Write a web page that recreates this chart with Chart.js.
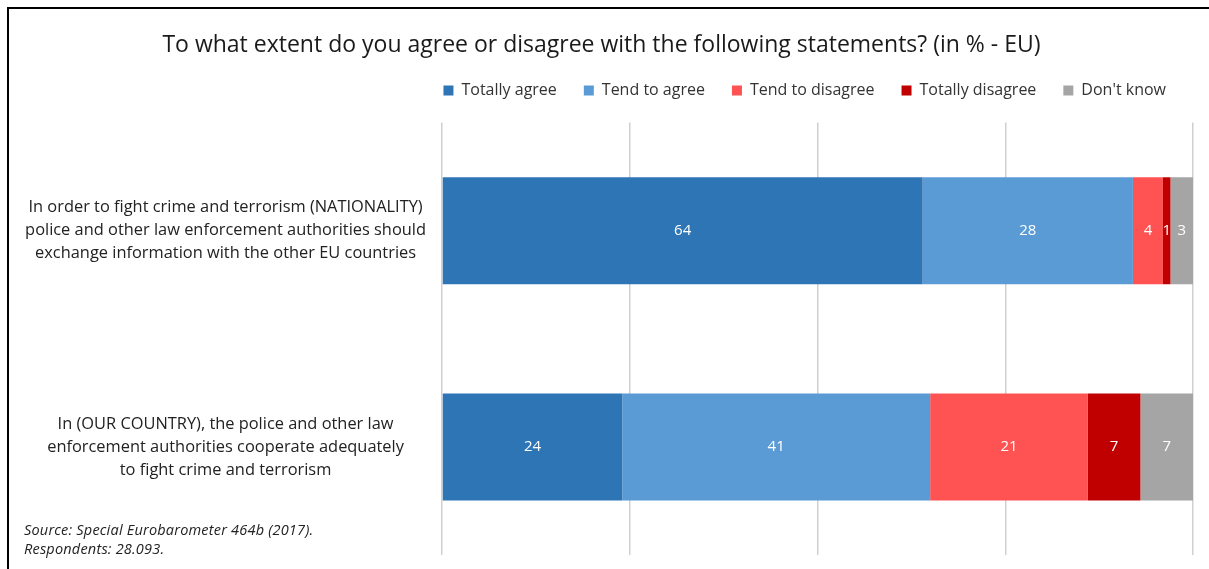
<!DOCTYPE html>
<html>
<head>
<meta charset="utf-8">
<script src="https://cdn.jsdelivr.net/npm/chart.js@4.4.1/dist/chart.umd.min.js"></script>
<style>
  html, body { margin: 0; padding: 0; background: #fff; }
  #wrap { position: relative; width: 1209px; height: 569px; overflow: hidden; }
  #frame {
    position: absolute; left: 7px; top: 7px; width: 1260px; height: 600px;
    border-left: 2px solid #000; border-top: 2px solid #000;
  }
  #note {
    position: absolute; left: 24px; top: 520px;
    font: italic 14.5px "Open Sans", sans-serif; color: #222; line-height: 19px;
    letter-spacing: 0.2px;
  }
</style>
</head>
<body>
<div id="wrap">
  <div id="frame"></div>
  <canvas id="graphics-chart" width="1209" height="569"></canvas>
  <div id="note">Source: Special Eurobarometer 464b (2017).<br>Respondents: 28.093.</div>
</div>
<script>
/**
 * Data
 */
const statements = [
  ['In order to fight crime and terrorism (NATIONALITY)',
   'police and other law enforcement authorities should',
   'exchange information with the other EU countries'],
  ['In (OUR COUNTRY), the police and other law',
   'enforcement authorities cooperate adequately',
   'to fight crime and terrorism']
];
const totallyAgree = [64, 24];
const tendToAgree = [28, 41];
const tendToDisagree = [4, 21];
const totallyDisagree = [1, 7];
const dontKnow = [3, 7];
const axisTicks = [0, 25, 50, 75, 100];

const FONT = '"Open Sans", sans-serif';

/**
 * Methods
 */

// white value in the middle of each bar segment
const segmentLabels = {
  id: 'segmentLabels',
  afterDatasetsDraw(chart) {
    const { ctx } = chart;
    ctx.save();
    ctx.font = '15px ' + FONT;
    ctx.fillStyle = '#ffffff';
    ctx.textAlign = 'center';
    ctx.textBaseline = 'middle';
    chart.data.datasets.forEach((ds, i) => {
      chart.getDatasetMeta(i).data.forEach((bar, j) => {
        ctx.fillText(ds.data[j], (bar.x + bar.base) / 2, bar.y);
      });
    });
    ctx.restore();
  }
};

// a bit more room between the legend and the plot
const legendGap = {
  id: 'legendGap',
  beforeInit(chart) {
    const fit = chart.legend.fit;
    chart.legend.fit = function () {
      fit.call(this);
      this.height += 14;
    };
  }
};

const createGraphic = () => {
  const ctx = document.getElementById('graphics-chart').getContext('2d');

  const barChart = new Chart(ctx, {
    type: 'bar',
    data: {
      labels: statements,
      datasets: [
        { label: 'Totally agree', data: totallyAgree, backgroundColor: '#2e75b6' },
        { label: 'Tend to agree', data: tendToAgree, backgroundColor: '#5b9bd5' },
        { label: 'Tend to disagree', data: tendToDisagree, backgroundColor: '#ff5252' },
        { label: 'Totally disagree', data: totallyDisagree, backgroundColor: '#c00000' },
        { label: "Don't know", data: dontKnow, backgroundColor: '#a5a5a5' }
      ]
    },
    options: {
      indexAxis: 'y',
      responsive: false,
      animation: false,
      categoryPercentage: 1,
      barPercentage: 0.495,
      layout: { padding: { top: 22, right: 16, bottom: 14, left: 10 } },
      plugins: {
        title: {
          display: true,
          text: 'To what extent do you agree or disagree with the following statements? (in % - EU)',
          color: '#1a1a1a',
          font: { family: FONT, size: 23, weight: 'normal' },
          padding: { top: 10, bottom: -4 }
        },
        legend: {
          position: 'top',
          align: 'end',
          labels: {
            color: '#333',
            font: { family: FONT, size: 16 },
            boxWidth: 10,
            boxHeight: 10,
            padding: 27
          }
        },
        tooltip: { enabled: false }
      },
      scales: {
        x: {
          stacked: true,
          min: 0,
          max: 100,
          afterBuildTicks: (axis) => { axis.ticks = axisTicks.map(v => ({ value: v })); },
          afterFit: (axis) => { axis.height = 0; },
          ticks: { display: false },
          grid: { color: '#d0d0d0', lineWidth: 1.5, drawTicks: false },
          border: { display: false }
        },
        y: {
          stacked: true,
          afterFit: (axis) => {
            axis.width = 432;
            axis.paddingTop = 0;
            axis.paddingBottom = 0;
          },
          grid: { display: false, drawTicks: false },
          border: { display: false },
          ticks: {
            color: '#222',
            font: { family: FONT, size: 16.4, lineHeight: 1.4 },
            crossAlign: 'center',
            padding: 16
          }
        }
      }
    },
    plugins: [segmentLabels, legendGap]
  });
};

/**
 * Events
 */
document.addEventListener('DOMContentLoaded', () => {
  createGraphic();
});
</script>
</body>
</html>
